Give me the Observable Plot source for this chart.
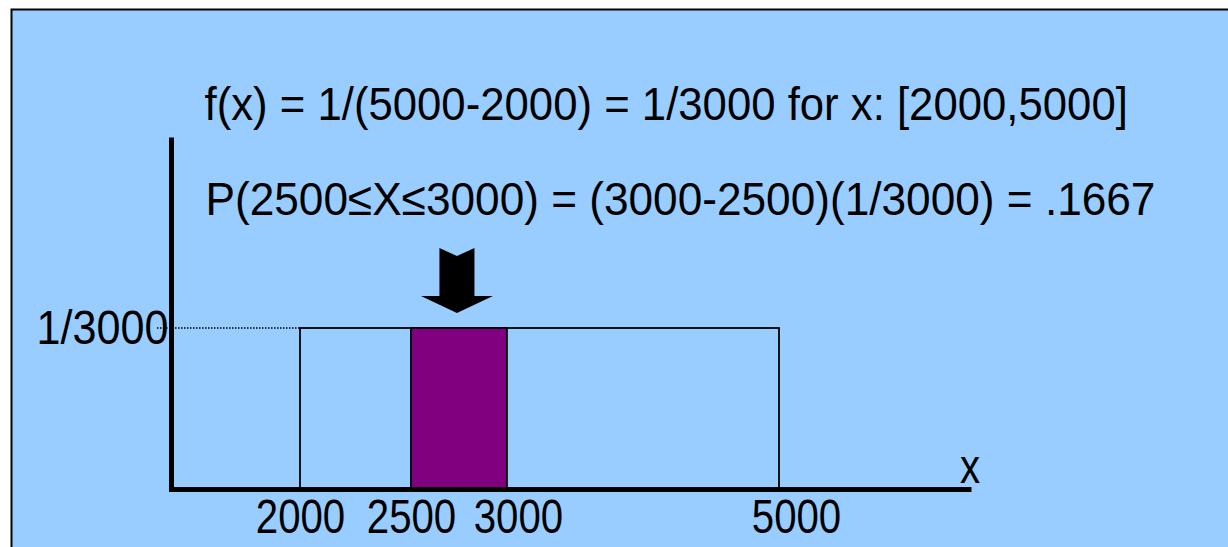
<!DOCTYPE html>
<html>
<head>
<meta charset="utf-8">
<script src="https://cdn.jsdelivr.net/npm/d3@7"></script>
<script src="https://cdn.jsdelivr.net/npm/@observablehq/plot@0.6"></script>
<style>
  html, body { margin: 0; padding: 0; background: #fff; overflow: hidden; }
</style>
</head>
<body>
<div id="chart"></div>
<script>
// Uniform distribution on [2000, 5000] and the shaded interval [2500, 3000]
const titleLines = [
  "f(x) = 1/(5000-2000) = 1/3000 for x: [2000,5000]",
  "P(2500\u2264X\u22643000) = (3000-2500)(1/3000) = .1667"
];
const lowerBound = 2000;
const upperBound = 5000;
const density = 1 / 3000;
const intervalLow = 2500;
const intervalHigh = 3000;
const xTickValues = [2000, 2500, 3000, 5000];
const yTickLabel = "1/3000";
const axisName = "x";

const densityBox = [{x1: lowerBound, x2: upperBound, y1: 0, y2: density}];
const shadedBox = [{x1: intervalLow, x2: intervalHigh, y1: 0, y2: density}];
const arrowTarget = (intervalLow + intervalHigh) / 2;

// Schematic x axis: the shaded interval is drawn wider than its true share
const warp = d3.scaleLinear().domain(xTickValues).range([2000, 2695, 3296, 5000]);

const W = 1228, H = 547;
const mL = 171, mR = 257, mT = 137, mB = 58;
const fw = W - mL - mR, fh = H - mT - mB;

// Block arrow pointing down at the shaded interval
function arrowMark(index, scales) {
  const p = d3.path();
  p.moveTo(0, 0);
  p.lineTo(36, -17);
  p.lineTo(17.5, -17);
  p.lineTo(17.5, -65);
  p.lineTo(0, -57);
  p.lineTo(-17.5, -65);
  p.lineTo(-17.5, -17);
  p.lineTo(-36, -17);
  p.closePath();
  const cx = scales.x(warp(arrowTarget)) - 2;
  const ty = scales.y(density) - 15;
  return d3.create("svg:path")
    .attr("d", p.toString())
    .attr("transform", `translate(${cx},${ty})`)
    .attr("fill", "black")
    .node();
}

// Dotted leader from the density label to the top-left corner of the box
function leaderMark(index, scales, values, dimensions) {
  const y = scales.y(density);
  return d3.create("svg:line")
    .attr("x1", dimensions.marginLeft - 14)
    .attr("x2", scales.x(warp(lowerBound)))
    .attr("y1", y)
    .attr("y2", y)
    .attr("stroke", "black")
    .attr("stroke-width", 1.5)
    .attr("stroke-dasharray", "1.5,1.5")
    .node();
}

const tickText = {text: d => String(d), frameAnchor: "bottom", lineAnchor: "top", dy: 9, fontSize: 49};

const chart = Plot.plot({
  width: W,
  height: H,
  marginLeft: mL,
  marginRight: mR,
  marginTop: mT,
  marginBottom: mB,
  style: {
    background: "white",
    color: "black",
    fontFamily: "'Liberation Sans', Arial, sans-serif",
    fontSize: "49px",
    overflow: "hidden"
  },
  x: {transform: warp, domain: [lowerBound, upperBound], range: [300, 779], axis: null},
  y: {domain: [0, density], range: [489, 328], axis: null},
  marks: [
    // light blue slide panel with its black border
    Plot.frame({
      fill: "#99CCFF",
      stroke: "black",
      strokeWidth: 2,
      insetLeft: -(mL - 11),
      insetTop: -(mT - 9),
      insetRight: -(mR + 10),
      insetBottom: -(mB + 10)
    }),
    leaderMark,
    Plot.rect(densityBox, {x1: "x1", x2: "x2", y1: "y1", y2: "y2", fill: "none", stroke: "black", strokeWidth: 1.8}),
    Plot.rect(shadedBox, {x1: "x1", x2: "x2", y1: "y1", y2: "y2", fill: "#800080", stroke: "black", strokeWidth: 1.8}),
    // heavy axes along the left and bottom edges of the frame
    Plot.frame({
      stroke: "black",
      strokeWidth: 5,
      strokeDasharray: `0 ${fw + fh} ${fw + fh}`
    }),
    arrowMark,
    // tick labels (the two right-hand ones sit a little right of their ticks)
    Plot.text(xTickValues.filter(v => v <= intervalLow), {x: d => d, ...tickText}),
    Plot.text(xTickValues.filter(v => v === intervalHigh), {x: d => d, ...tickText, dx: 11}),
    Plot.text(xTickValues.filter(v => v === upperBound), {x: d => d, ...tickText, dx: 17}),
    Plot.text([density], {y: d => d, text: () => yTickLabel, frameAnchor: "left", textAnchor: "end", lineAnchor: "middle", dx: -3, fontSize: 49}),
    Plot.text([axisName], {frameAnchor: "bottom-right", textAnchor: "middle", lineAnchor: "middle", fontSize: 49, dx: -1.5, dy: -22}),
    // formulas
    Plot.text([titleLines[0]], {frameAnchor: "top-left", textAnchor: "start", lineAnchor: "top", fontSize: 47, dx: 33, dy: -51}),
    Plot.text([titleLines[1]], {frameAnchor: "top-left", textAnchor: "start", lineAnchor: "top", fontSize: 47, dx: 34, dy: 44})
  ]
});

document.getElementById("chart").append(chart);

// Narrow the lettering horizontally, the way the slide typeface is set
d3.select(chart).selectAll("text").each(function () {
  const t = this.textContent;
  const k = t === titleLines[0] ? 0.93 : t === titleLines[1] ? 0.94 : t === yTickLabel ? 0.88 : 0.82;
  const len = this.getComputedTextLength();
  this.setAttribute("textLength", len * k);
  this.setAttribute("lengthAdjust", "spacingAndGlyphs");
});
</script>
</body>
</html>
